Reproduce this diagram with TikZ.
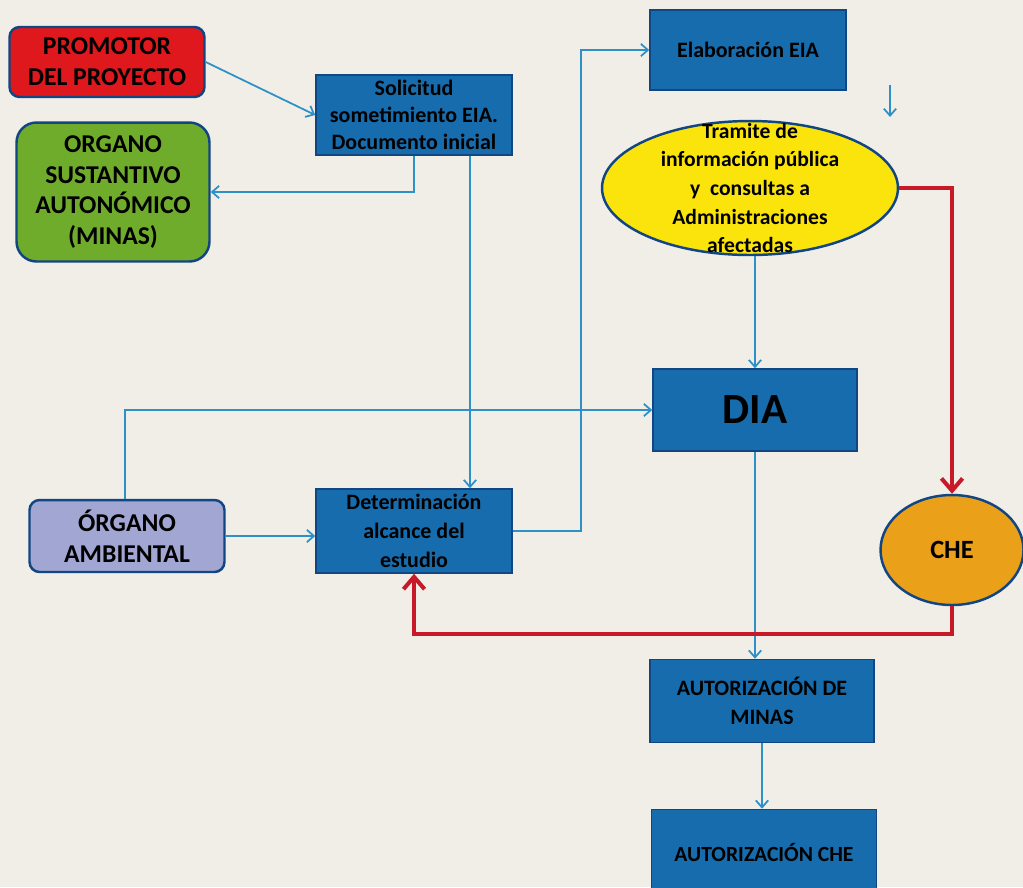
\documentclass[tikz,border=0pt]{standalone}
\usepackage{fontspec}
\setmainfont{Carlito}
\usetikzlibrary{shapes.geometric,arrows.meta}
\definecolor{paper}{RGB}{240,238,231}
\definecolor{cajaazul}{RGB}{22,108,172}
\definecolor{bordeazul}{RGB}{18,70,130}
\definecolor{lineaazul}{RGB}{45,145,200}
\definecolor{rojo}{RGB}{200,25,40}
\definecolor{rojocaja}{RGB}{222,24,28}
\definecolor{verde}{RGB}{112,172,44}
\definecolor{lila}{RGB}{162,166,210}
\definecolor{amarillo}{RGB}{250,228,12}
\definecolor{naranja}{RGB}{234,160,24}
\begin{document}
\begin{tikzpicture}[x=0.02cm,y=-0.02cm,
  caja/.style={draw=bordeazul, fill=cajaazul, line width=0.9pt, align=center, font=\bfseries\fontsize{12.5}{16.5}\selectfont, inner sep=0pt},
  actor/.style={draw=bordeazul, line width=1.4pt, rounded corners=0.2cm, align=center, font=\bfseries\fontsize{14.6}{17.5}\selectfont, inner sep=0pt},
  flecha/.style={draw=lineaazul, line width=1pt, -{Straight Barb[length=4pt,width=7pt]}},
  rojoflecha/.style={draw=rojo, line width=2.3pt, -{Straight Barb[length=7pt,width=12pt]}}]
\fill[paper] (0,0) rectangle (1023,887);
\useasboundingbox (0,0) rectangle (1023,887);

% actores
\node[actor, fill=rojocaja, minimum width=3.9cm, minimum height=1.4cm] (promotor) at (107,62) {PROMOTOR\\DEL PROYECTO};
\node[actor, fill=verde, rounded corners=0.4cm, minimum width=3.86cm, minimum height=2.78cm] (sustantivo) at (113,192) {ORGANO\\SUSTANTIVO\\AUTONÓMICO\\(MINAS)};
\node[actor, fill=lila, minimum width=3.9cm, minimum height=1.44cm] (ambiental) at (127,536) {ÓRGANO\\AMBIENTAL};

% tramites
\node[caja, minimum width=3.92cm, minimum height=1.6cm, font=\bfseries\fontsize{12.5}{15.3}\selectfont] (solicitud) at (414,115) {Solicitud\\sometimiento EIA.\\Documento inicial};
\node[caja, minimum width=3.92cm, minimum height=1.68cm] (determinacion) at (414,531) {Determinación\\alcance del\\estudio};
\node[caja, minimum width=3.92cm, minimum height=1.6cm] (elaboracion) at (748,50) {Elaboración EIA};
\node[ellipse, draw=bordeazul, fill=amarillo, line width=1.4pt, inner sep=0pt, minimum width=5.92cm, minimum height=2.68cm,
  label={[align=center, font=\bfseries\fontsize{12.3}{16.3}\selectfont]center:Tramite de\\información pública\\y\ \ consultas a\\Administraciones\\afectadas}] (tramite) at (750,188) {};
\node[caja, minimum width=4.08cm, minimum height=1.64cm, font=\bfseries\fontsize{24.5}{28}\selectfont] (dia) at (755,410) {DIA};
\node[ellipse, draw=bordeazul, fill=naranja, line width=1.4pt, inner sep=0pt, minimum width=2.86cm, minimum height=2.2cm, font=\bfseries\fontsize{15}{17}\selectfont] (che) at (952,550) {CHE};
\node[caja, minimum width=4.48cm, minimum height=1.66cm] (minas) at (762,701) {AUTORIZACIÓN DE\\MINAS};
\node[caja, minimum width=4.5cm, minimum height=1.7cm, font=\bfseries\fontsize{12.3}{15}\selectfont] (autche) at (764,852) {AUTORIZACIÓN CHE};

% conexiones
\draw[flecha] (promotor.east) -- (solicitud.west);
\draw[flecha] (solicitud.south) |- (sustantivo.east);
\draw[flecha] (solicitud.south -| 470,0) -- (determinacion.north -| 470,0);
\draw[flecha] (ambiental.north -| 125,0) |- (dia.west);
\draw[flecha] (ambiental.east) -- (ambiental.east -| determinacion.west);
\draw[flecha] (determinacion.east) -- ++(68,0) |- (elaboracion.west);
\draw[flecha] (dia.north |- tramite.south) -- (dia.north);
\draw[flecha] (dia.south) -- (dia.south |- minas.north);
\draw[flecha] (minas.south) -- (minas.south |- autche.north);
\coordinate (suelto1) at (890,85);
\coordinate (suelto2) at (890,117);
\draw[flecha] (suelto1) -- (suelto2);
\draw[rojoflecha] (tramite.east) -| (che.north);
\draw[rojoflecha] (che.south) -- ++(0,28) -| (determinacion.south);
\end{tikzpicture}
\end{document}
